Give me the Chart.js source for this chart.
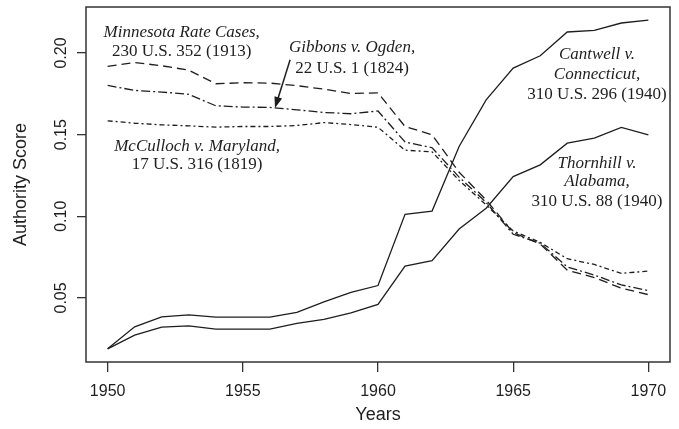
<!DOCTYPE html>
<html lang="en">
<head>
  <meta charset="UTF-8">
  <title>Authority Score</title>
  <script src="https://cdn.jsdelivr.net/npm/chart.js@4.4.0/dist/chart.umd.min.js"></script>
  <style>
    body { margin: 0; background: #fff; }
  </style>
</head>
<body>
  <canvas id="authority" width="679" height="429"></canvas>

  <script>
    // yearly authority scores
    const years = [1950, 1951, 1952, 1953, 1954, 1955, 1956, 1957, 1958, 1959, 1960,
      1961, 1962, 1963, 1964, 1965, 1966, 1967, 1968, 1969, 1970];
    const cantwell = [0.0188, 0.0323, 0.0384, 0.0396, 0.0382, 0.0382, 0.0382, 0.0411, 0.0476, 0.0534, 0.0576,
      0.1012, 0.1032, 0.1428, 0.1713, 0.1908, 0.1983, 0.2129, 0.2139, 0.2184, 0.2201];
    const thornhill = [0.0188, 0.0272, 0.0321, 0.0329, 0.0309, 0.0309, 0.0309, 0.0344, 0.0368, 0.0409, 0.0460,
      0.0695, 0.0728, 0.0922, 0.1049, 0.1243, 0.1315, 0.1448, 0.1479, 0.1544, 0.1499];
    const minnesota = [0.1918, 0.1942, 0.1922, 0.1895, 0.1812, 0.1818, 0.1816, 0.1800, 0.1779, 0.1752, 0.1756,
      0.1550, 0.1499, 0.1270, 0.1100, 0.0900, 0.0830, 0.0670, 0.0625, 0.0560, 0.0520];
    const gibbons = [0.1802, 0.1771, 0.1761, 0.1747, 0.1677, 0.1669, 0.1667, 0.1652, 0.1636, 0.1628, 0.1645,
      0.1455, 0.1420, 0.1240, 0.1085, 0.0890, 0.0835, 0.0690, 0.0640, 0.0580, 0.0545];
    const mcculloch = [0.1585, 0.1570, 0.1560, 0.1554, 0.1546, 0.1550, 0.1550, 0.1556, 0.1574, 0.1562, 0.1545,
      0.1405, 0.1395, 0.1220, 0.1070, 0.0910, 0.0840, 0.0740, 0.0705, 0.0650, 0.0665];

    const xTicks = [1950, 1955, 1960, 1965, 1970];
    const yTicks = [0.05, 0.10, 0.15, 0.20];
    const yTickLabels = ['0.05', '0.10', '0.15', '0.20'];

    // case labels, placed in data units (year, score); italic lines first
    const notes = [
      { x: 1952.74, y: [0.2123, 0.2010], lines: ['Minnesota Rate Cases,', '230 U.S. 352 (1913)'], italic: 1 },
      { x: 1959.04, y: [0.2031, 0.1908], lines: ['Gibbons v. Ogden,', '22 U.S. 1 (1824)'], italic: 1 },
      { x: 1953.31, y: [0.1427, 0.1315], lines: ['McCulloch v. Maryland,', '17 U.S. 316 (1819)'], italic: 1 },
      { x: 1968.10, y: [0.1990, 0.1867, 0.1744], lines: ['Cantwell v.', 'Connecticut,', '310 U.S. 296 (1940)'], italic: 2 },
      { x: 1968.10, y: [0.1325, 0.1210, 0.1090], lines: ['Thornhill v.', 'Alabama,', '310 U.S. 88 (1940)'], italic: 2 }
    ];
    // arrow from the Gibbons label down to its line
    const arrowFrom = [1956.75, 0.1959];
    const arrowTo = [1956.19, 0.1664];

    const ink = '#1e1e1e';

    function series(values, dash) {
      return {
        data: years.map((yr, i) => ({ x: yr, y: values[i] })),
        borderColor: ink,
        borderWidth: 1.3,
        borderDash: dash,
        pointRadius: 0,
        fill: false,
        tension: 0
      };
    }

    // box, rotated y labels and the case notes, drawn R-style
    const frame = {
      id: 'frame',
      afterDraw(chart) {
        const ctx = chart.ctx;
        const a = chart.chartArea;
        const xs = chart.scales.x;
        const ys = chart.scales.y;
        ctx.save();
        ctx.strokeStyle = '#333';
        ctx.lineWidth = 1.5;
        ctx.strokeRect(a.left, a.top, a.right - a.left, a.bottom - a.top);

        ctx.fillStyle = ink;
        ctx.font = '16px "Liberation Sans"';
        ctx.textAlign = 'center';
        ctx.textBaseline = 'alphabetic';
        yTicks.forEach((v, i) => {
          ctx.save();
          ctx.translate(a.left - 20, ys.getPixelForValue(v));
          ctx.rotate(-Math.PI / 2);
          ctx.fillText(yTickLabels[i], 0, 0);
          ctx.restore();
        });

        ctx.textBaseline = 'middle';
        notes.forEach(n => {
          n.lines.forEach((t, i) => {
            ctx.font = (i < n.italic ? 'italic ' : '') + '17px "Liberation Serif"';
            ctx.fillText(t, xs.getPixelForValue(n.x), ys.getPixelForValue(n.y[i]));
          });
        });

        // arrow
        const x1 = xs.getPixelForValue(arrowFrom[0]), y1 = ys.getPixelForValue(arrowFrom[1]);
        const x2 = xs.getPixelForValue(arrowTo[0]), y2 = ys.getPixelForValue(arrowTo[1]);
        const ang = Math.atan2(y2 - y1, x2 - x1);
        ctx.strokeStyle = ink;
        ctx.lineWidth = 1.5;
        ctx.beginPath();
        ctx.moveTo(x1, y1);
        ctx.lineTo(x2 - 6 * Math.cos(ang), y2 - 6 * Math.sin(ang));
        ctx.stroke();
        ctx.beginPath();
        ctx.moveTo(x2, y2);
        ctx.lineTo(x2 - 11 * Math.cos(ang) + 4 * Math.sin(ang), y2 - 11 * Math.sin(ang) - 4 * Math.cos(ang));
        ctx.lineTo(x2 - 11 * Math.cos(ang) - 4 * Math.sin(ang), y2 - 11 * Math.sin(ang) + 4 * Math.cos(ang));
        ctx.closePath();
        ctx.fill();
        ctx.restore();
      }
    };

    const ctx = document.getElementById('authority').getContext('2d');
    const authorityChart = new Chart(ctx, {
      type: 'line',
      data: {
        datasets: [
          series(cantwell, []),
          series(thornhill, []),
          series(minnesota, [9, 5]),
          series(gibbons, [9, 3, 2, 3]),
          series(mcculloch, [5, 3, 2, 3])
        ]
      },
      options: {
        responsive: false,
        animation: false,
        devicePixelRatio: 1,
        layout: { padding: { top: 7, right: 9, left: 0, bottom: 0 } },
        plugins: { legend: { display: false }, tooltip: { enabled: false } },
        scales: {
          x: {
            type: 'linear',
            min: 1949.2,
            max: 1970.8,
            afterBuildTicks: s => { s.ticks = xTicks.map(v => ({ value: v })); },
            afterFit: s => { s.height = 67; },
            border: { display: false },
            grid: { drawOnChartArea: false, tickLength: 10, color: '#333', lineWidth: 1.3 },
            ticks: {
              color: ink,
              font: { family: 'Liberation Sans', size: 16 },
              padding: 10,
              maxRotation: 0,
              callback: v => String(v)
            },
            title: {
              display: true,
              text: 'Years',
              color: ink,
              font: { family: 'Liberation Sans', size: 18 },
              padding: { top: 0, bottom: 3 }
            }
          },
          y: {
            min: 0.01075,
            max: 0.2282,
            afterBuildTicks: s => { s.ticks = yTicks.map(v => ({ value: v })); },
            afterFit: s => { s.width = 86; },
            border: { display: false },
            grid: { drawOnChartArea: false, tickLength: 9, color: '#333', lineWidth: 1.3 },
            ticks: { display: false },
            title: {
              display: true,
              text: 'Authority Score',
              color: ink,
              font: { family: 'Liberation Sans', size: 18 },
              padding: { top: 10, bottom: 0 }
            }
          }
        }
      },
      plugins: [frame]
    });
  </script>
</body>
</html>
